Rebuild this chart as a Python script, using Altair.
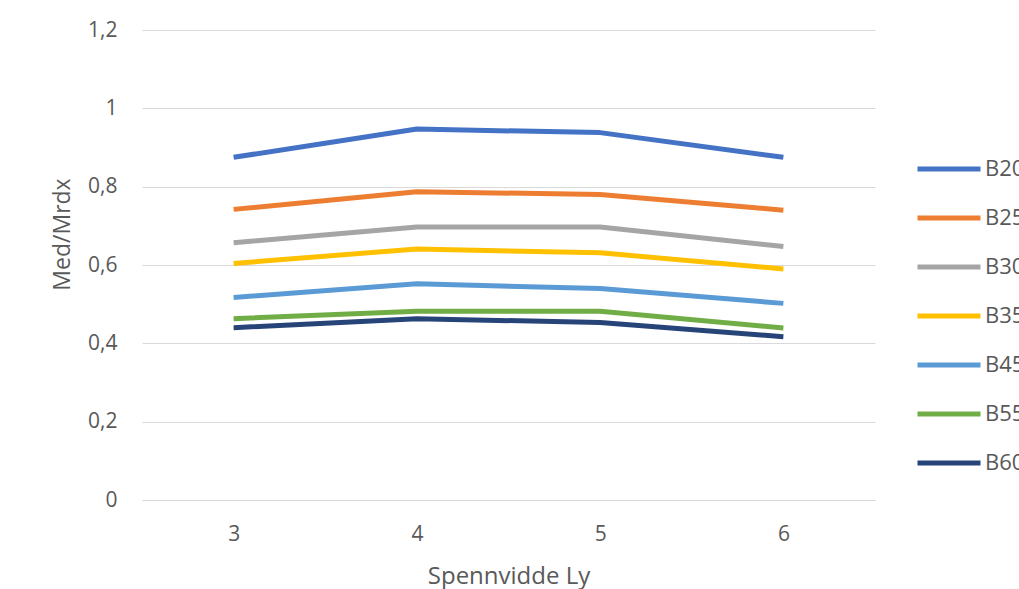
import altair as alt
import pandas as pd

# Span values (category axis) and Med/Mrdx ratio per concrete class
spans = ["3", "4", "5", "6"]
classes = ["B20", "B25", "B30", "B35", "B45", "B55", "B60"]
b20 = [0.875, 0.947, 0.938, 0.875]
b25 = [0.742, 0.787, 0.780, 0.740]
b30 = [0.657, 0.697, 0.697, 0.647]
b35 = [0.604, 0.641, 0.631, 0.590]
b45 = [0.517, 0.552, 0.540, 0.502]
b55 = [0.463, 0.482, 0.482, 0.439]
b60 = [0.440, 0.463, 0.453, 0.417]
series = [b20, b25, b30, b35, b45, b55, b60]
colors = ["#4472C4", "#ED7D31", "#A5A5A5", "#FFC000", "#5B9BD5", "#70AD47", "#264478"]

rows = []
for name, vals in zip(classes, series):
    for s, v in zip(spans, vals):
        rows.append({"Spennvidde": s, "Klasse": name, "Verdi": v})
df = pd.DataFrame(rows)

FONT = "Open Sans"
GREY = "#595959"

chart = (
    alt.Chart(df)
    .mark_line(strokeWidth=5, strokeCap="butt", strokeJoin="round")
    .encode(
        x=alt.X(
            "Spennvidde:N",
            sort=spans,
            scale=alt.Scale(type="point", padding=0.5),
            axis=alt.Axis(
                title="Spennvidde Ly",
                labelAngle=0,
                labelPadding=23,
                labelFontSize=21,
                ticks=False,
                domain=True,
                domainColor="#d9d9d9",
                grid=False,
                titleFontSize=24,
                titlePadding=20,
            ),
        ),
        y=alt.Y(
            "Verdi:Q",
            scale=alt.Scale(domain=[0, 1.2], nice=False),
            axis=alt.Axis(
                title="Med/Mrdx",
                values=[0, 0.2, 0.4, 0.6, 0.8, 1.0, 1.2],
                labelExpr="replace(format(datum.value, '.1~f'), '.', ',')",
                labelFontSize=21,
                ticks=False,
                domain=False,
                grid=True,
                gridColor="#d9d9d9",
                labelPadding=25,
                titleFontSize=23,
                titleAngle=270,
                titleX=-80,
                titleY=204,
                titleAlign="center",
                titleBaseline="middle",
            ),
        ),
        color=alt.Color(
            "Klasse:N",
            sort=classes,
            scale=alt.Scale(domain=classes, range=colors),
            legend=alt.Legend(
                title=None,
                orient="none",
                legendX=773,
                legendY=105,
                symbolType="stroke",
                symbolSize=3969,
                symbolStrokeWidth=5,
                labelOffset=2,
                rowPadding=4,
                labelFontSize=22,
                labelFont=FONT,
                labelColor=GREY,
                padding=0,
            ),
        ),
    )
    .properties(
        width=733,
        height=470,
        background="white",
        padding={"left": 142, "top": 30, "right": 144, "bottom": 89},
        autosize=alt.AutoSizeParams(type="none"),
    )
    .configure_view(stroke=None)
    .configure_axis(
        labelFont=FONT,
        titleFont=FONT,
        labelColor=GREY,
        titleColor=GREY,
        titleFontWeight="normal",
    )
)

chart.save("out.html", embed_options={"renderer": "svg", "actions": False})
